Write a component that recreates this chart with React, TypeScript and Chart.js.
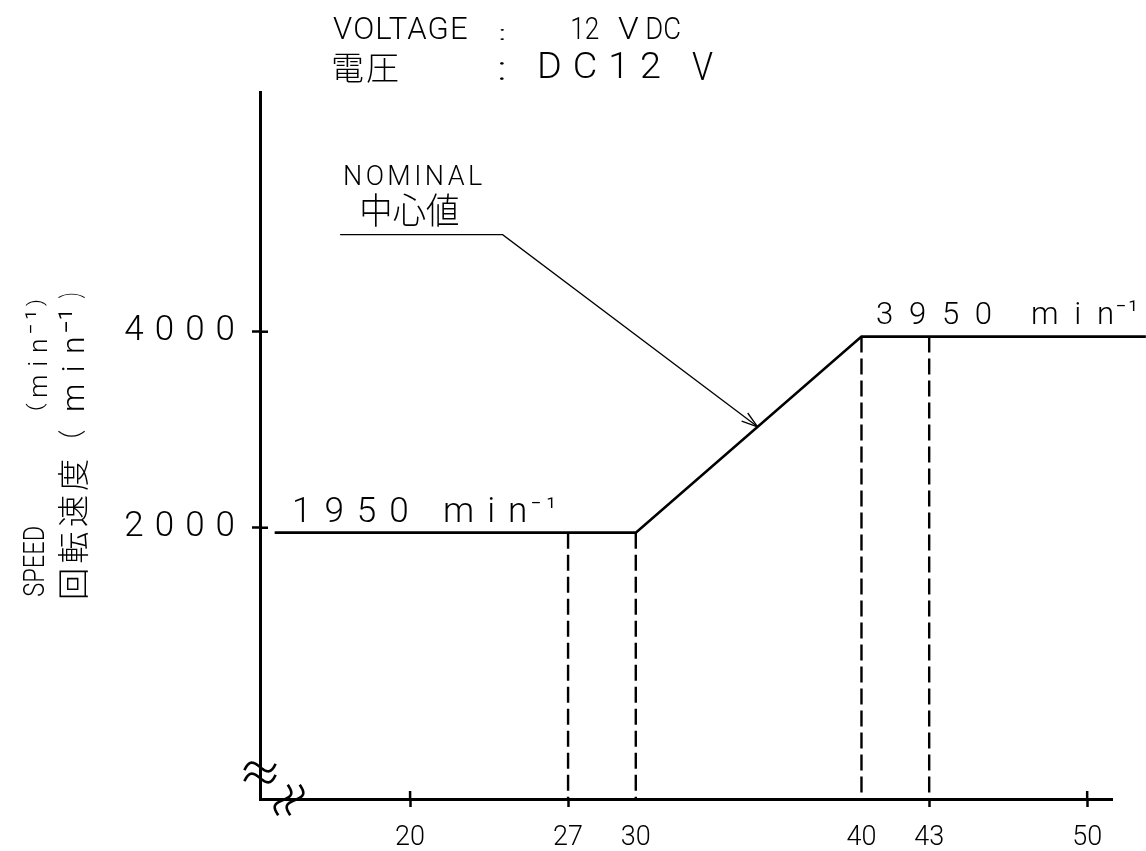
import { useEffect, useRef } from 'react';
import { Chart, registerables } from 'chart.js';

Chart.register(...registerables);

// ---- data ----
const speedX = [14, 30, 40, 52.6];
const speedY = [1950, 1950, 3950, 3950];
const dashX = [27, 30, 40, 43];
const dashTopY = [1950, 1950, 3950, 3950];
const leaderX = [16.9, 24.1, 35.4];
const leaderY = [4990, 4990, 3030];
const xTickValues = [20, 27, 30, 40, 43, 50];
const xTickLabels = ['20', '27', '30', '40', '43', '50'];
const yTickValues = [2000, 4000];
const yTickLabels = ['2000', '4000'];
const crossTicksX = [20, 50];
const hiddenTicksX = [30, 40];

const X_MIN = 13.35;
const X_MAX = 51.1;
const Y_MIN = -768;
const Y_MAX = 6446;

const LAT = "Roboto, 'DejaVu Sans', sans-serif";
const JP = "'Noto Sans CJK JP', 'Noto Sans CJK SC', sans-serif";

type Piece = [string, string, number, number, number, number, boolean?];
// text, family, x0, x1, y0, y1 (ink box on screen), rotated
const pieces: Piece[] = [
  ['VOLTAGE', LAT, 333, 467, 17, 40],
  [':', LAT, 500, 504, 29, 40],
  ['12', LAT, 572, 599, 17, 40],
  ['V', LAT, 618, 639, 17, 40],
  ['DC', LAT, 647, 680, 17, 40],
  ['電圧', JP, 333, 398, 53, 82],
  [':', LAT, 500, 504, 62, 80],
  ['DC12', LAT, 540, 660, 52, 80],
  ['V', LAT, 692, 713, 52, 80],
  ['NOMINAL', LAT, 345, 482, 165, 185],
  ['中心値', JP, 362, 458, 193, 227],
  ['1950 min', LAT, 295, 525, 497, 523],
  ['⁻¹', LAT, 532, 553, 497, 508],
  ['3950 min', LAT, 877, 1112, 302, 325],
  ['⁻¹', LAT, 1117, 1135, 300, 311],
  ['SPEED', LAT, 23, 45, 527, 596, true],
  ['(', LAT, 25, 47, 403, 410, true],
  ['min', LAT, 28, 47, 340, 397, true],
  ['⁻¹', LAT, 25, 36, 313, 333, true],
  [')', LAT, 25, 47, 300, 306, true],
  ['回転速度', JP, 58, 88, 460, 598, true],
  ['（', JP, 58, 85, 430, 437, true],
  ['min', LAT, 62, 85, 338, 410, true],
  ['⁻¹', LAT, 58, 72, 312, 332, true],
  ['）', JP, 58, 85, 293, 298, true],
];

function fitText(ctx: CanvasRenderingContext2D, text: string, family: string, L: number, R: number, T: number, B: number) {
  (ctx as any).letterSpacing = '0px';
  ctx.textAlign = 'left';
  ctx.textBaseline = 'alphabetic';
  ctx.font = `300 100px ${family}`;
  const m = ctx.measureText(text);
  const h = m.actualBoundingBoxAscent + m.actualBoundingBoxDescent;
  const size = (100 * (B - T)) / h;
  ctx.font = `300 ${size}px ${family}`;
  const m2 = ctx.measureText(text);
  const inkW = m2.actualBoundingBoxLeft + m2.actualBoundingBoxRight;
  const n = Array.from(text).length;
  const W = R - L;
  const base = T + m2.actualBoundingBoxAscent;
  if (n > 1 && W > inkW) {
    (ctx as any).letterSpacing = `${(W - inkW) / (n - 1)}px`;
    ctx.fillText(text, L + m2.actualBoundingBoxLeft, base);
    (ctx as any).letterSpacing = '0px';
  } else {
    ctx.save();
    ctx.translate(L, 0);
    ctx.scale(W / inkW, 1);
    ctx.fillText(text, m2.actualBoundingBoxLeft, base);
    ctx.restore();
  }
}

function wave(ctx: CanvasRenderingContext2D, cx: number, cy: number, len: number, amp: number, angle: number) {
  ctx.save();
  ctx.translate(cx, cy);
  ctx.rotate(angle);
  ctx.beginPath();
  for (let i = 0; i <= 40; i++) {
    const t = i / 40;
    const x = -len / 2 + len * t;
    const y = -amp * Math.sin(2 * Math.PI * t);
    if (i === 0) ctx.moveTo(x, y);
    else ctx.lineTo(x, y);
  }
  ctx.stroke();
  ctx.restore();
}

const Y_SPACING = 11;

const decorPlugin = {
  id: 'decor',
  beforeDraw(chart: any) {
    const s = chart.scales.y;
    if (s && !s.__patched) {
      const orig = s.drawLabels.bind(s);
      s.drawLabels = (area: any) => {
        const c = chart.ctx;
        c.save();
        c.letterSpacing = `${Y_SPACING}px`;
        orig(area);
        c.restore();
      };
      s.__patched = true;
    }
  },
  afterDatasetsDraw(chart: any) {
    const ctx: CanvasRenderingContext2D = chart.ctx;
    const xs = chart.scales.x;
    const ys = chart.scales.y;
    const area = chart.chartArea;
    ctx.save();
    ctx.strokeStyle = '#000';
    ctx.fillStyle = '#000';
    ctx.lineCap = 'butt';
    // inner halves of tick marks
    ctx.lineWidth = 2.5;
    yTickValues.forEach((v) => {
      const py = ys.getPixelForValue(v);
      ctx.beginPath();
      ctx.moveTo(area.left, py);
      ctx.lineTo(area.left + 8, py);
      ctx.stroke();
    });
    crossTicksX.forEach((v) => {
      const px = xs.getPixelForValue(v);
      ctx.beginPath();
      ctx.moveTo(px, area.bottom);
      ctx.lineTo(px, area.bottom - 8);
      ctx.stroke();
    });
    // arrow head on leader
    const n = leaderX.length;
    const tx = xs.getPixelForValue(leaderX[n - 1]);
    const ty = ys.getPixelForValue(leaderY[n - 1]);
    const fx = xs.getPixelForValue(leaderX[n - 2]);
    const fy = ys.getPixelForValue(leaderY[n - 2]);
    const a = Math.atan2(ty - fy, tx - fx);
    ctx.lineWidth = 1.3;
    ctx.beginPath();
    [-0.3, 0.3].forEach((d) => {
      ctx.moveTo(tx, ty);
      ctx.lineTo(tx - 17 * Math.cos(a + d), ty - 17 * Math.sin(a + d));
    });
    ctx.stroke();
    // axis break marks
    ctx.lineWidth = 2.6;
    ctx.lineJoin = 'round';
    wave(ctx, area.left, area.bottom - 32, 32, 6, -0.2);
    wave(ctx, area.left, area.bottom - 21, 32, 6, -0.2);
    wave(ctx, area.left + 23, area.bottom + 1, 32, 6, Math.PI / 2 + 0.3);
    wave(ctx, area.left + 35, area.bottom + 1, 32, 6, Math.PI / 2 + 0.3);
    ctx.restore();
  },
  afterDraw(chart: any) {
    const ctx: CanvasRenderingContext2D = chart.ctx;
    ctx.save();
    ctx.fillStyle = '#000';
    pieces.forEach(([t, fam, x0, x1, y0, y1, rot]) => {
      if (rot) {
        ctx.save();
        ctx.rotate(-Math.PI / 2);
        fitText(ctx, t, fam, -y1, -y0, x0, x1);
        ctx.restore();
      } else {
        fitText(ctx, t, fam, x0, x1, y0, y1);
      }
    });
    ctx.restore();
  },
};

export default function App() {
  const ref = useRef<HTMLCanvasElement>(null);
  useEffect(() => {
    const black = '#000';
    const datasets: any[] = [
      {
        data: speedX.map((x, i) => ({ x, y: speedY[i] })),
        borderColor: black,
        borderWidth: 2.6,
        pointRadius: 0,
        clip: false,
      },
      ...dashX.map((x, i) => ({
        data: [
          { x, y: dashTopY[i] },
          { x, y: Y_MIN },
        ],
        borderColor: black,
        borderWidth: 2.4,
        borderDash: [16, 6],
        pointRadius: 0,
      })),
      {
        data: leaderX.map((x, i) => ({ x, y: leaderY[i] })),
        borderColor: black,
        borderWidth: 1.3,
        pointRadius: 0,
      },
    ];
    const chart = new Chart(ref.current!, {
      type: 'line',
      data: { datasets },
      plugins: [decorPlugin],
      options: {
        responsive: false,
        animation: false,
        events: [],
        layout: { padding: { top: 92, right: 34, left: 0, bottom: 0 } },
        plugins: { legend: { display: false }, tooltip: { enabled: false } },
        elements: { line: { tension: 0 } },
        scales: {
          x: {
            type: 'linear',
            min: X_MIN,
            max: X_MAX,
            afterFit: (s: any) => {
              s.height = 52;
            },
            afterBuildTicks: (s: any) => {
              s.ticks = xTickValues.map((v) => ({ value: v }));
            },
            ticks: {
              autoSkip: false,
              maxRotation: 0,
              color: black,
              padding: 15,
              font: { family: LAT, size: 27, weight: 300 as any },
              callback: (_v: any, i: number) => xTickLabels[i],
            },
            grid: {
              display: true,
              drawOnChartArea: false,
              drawTicks: true,
              tickLength: 8,
              tickWidth: 2.5,
              tickColor: (c: any) => (c.tick && hiddenTicksX.includes(c.tick.value) ? 'rgba(0,0,0,0)' : black),
            },
            border: { display: true, color: black, width: 3 },
          },
          y: {
            type: 'linear',
            min: Y_MIN,
            max: Y_MAX,
            afterFit: (s: any) => {
              s.width = 260;
            },
            afterBuildTicks: (s: any) => {
              s.ticks = yTickValues.map((v) => ({ value: v }));
            },
            ticks: {
              color: black,
              padding: 6,
              font: { family: LAT, size: 35, weight: 300 as any },
              callback: (_v: any, i: number) => yTickLabels[i],
            },
            grid: {
              display: true,
              drawOnChartArea: false,
              drawTicks: true,
              tickLength: 8,
              tickWidth: 2.5,
              tickColor: black,
            },
            border: { display: true, color: black, width: 3 },
          },
        },
      } as any,
    });
    if ((document as any).fonts && (document as any).fonts.ready) {
      (document as any).fonts.ready.then(() => chart.update());
    }
    return () => chart.destroy();
  }, []);
  return (
    <div style={{ position: 'absolute', left: 0, top: 0, width: 1146, height: 851, background: '#fff' }}>
      <canvas ref={ref} width={1146} height={851} style={{ display: 'block' }} />
    </div>
  );
}
